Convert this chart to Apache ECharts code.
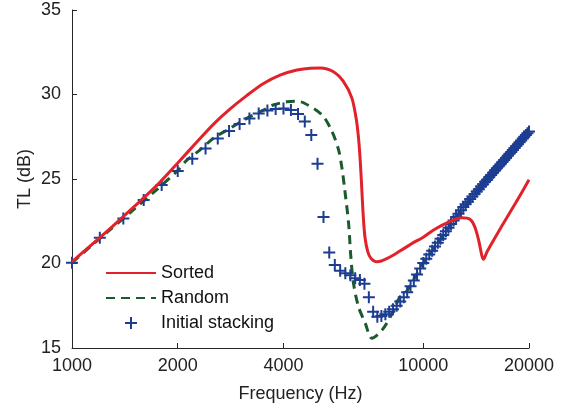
<!DOCTYPE html>
<html>
<head>
<meta charset="utf-8">
<script src="https://cdn.jsdelivr.net/npm/echarts@6/dist/echarts.min.js"></script>
<style>
  html, body { margin: 0; padding: 0; background: #fff; }
  #chart { width: 568px; height: 408px; }
</style>
</head>
<body>
<div id="chart"></div>
<script>
// tick labels
var xTicks = [1000, 2000, 4000, 10000, 20000];

// Sorted (red solid line)
var sortedFreq = [1000, 1250, 1500, 1750, 2000, 2270, 2530, 2820, 3150, 3510, 3910, 4370, 4770, 5090, 5550,
  5930, 6260, 6450, 6550, 6620, 6680, 6740, 6820, 6950, 7100, 7400, 7900, 8600, 9400, 10000, 10700,
  11800, 12890, 13600, 14000, 14370, 14670, 14840, 15190, 16720, 18300, 20000];
var sortedTL = [20.1, 21.85, 23.35, 24.65, 25.95, 27.2, 28.25, 29.15, 29.95, 30.65, 31.15, 31.45, 31.56, 31.57, 31.35,
  30.76, 29.8, 28.5, 27.3, 26.0, 24.5, 23.0, 21.6, 20.7, 20.3, 20.1, 20.3, 20.75, 21.25, 21.55, 21.98,
  22.45, 22.7, 22.6, 22.2, 21.4, 20.5, 20.25, 20.7, 22.2, 23.56, 24.95];

// Random (green dashed line)
var randomFreq = [1000, 1250, 1500, 1750, 2000, 2120, 2316, 2527, 2820, 3146, 3510, 3740, 4090, 4300, 4560,
  5150, 5500, 5740, 5870, 5970, 6130, 6220, 6330, 6540, 6840, 7140, 7640, 8160, 8600, 9000, 9600,
  10000, 11000, 12000, 14000, 16000, 18000, 20000];
var randomTL = [20.05, 21.8, 23.2, 24.4, 25.5, 26.1, 26.72, 27.41, 28.0, 28.59, 29.08, 29.38, 29.57, 29.6, 29.51,
  28.79, 27.8, 26.72, 25.63, 24.45, 22.38, 20.4, 18.83, 17.44, 16.46, 15.57, 16.07, 17.05, 18.04, 18.4, 19.4,
  20.0, 21.2, 22.3, 24.1, 25.5, 26.7, 27.8];

// Initial stacking (blue + markers)
var stackFreq = [1000, 1200, 1400, 1600, 1800, 2000, 2200, 2400, 2600, 2800, 3000, 3200, 3400, 3600, 3800, 4000,
  4200, 4400, 4600, 4800, 5000, 5200, 5400, 5600, 5800, 6000, 6200, 6400, 6600, 6800, 7000, 7200,
  7400, 7600, 7800, 8000, 8200, 8400, 8600, 8800, 9000, 9200, 9400, 9600, 9800, 10000, 10200, 10400,
  10600, 10800, 11000, 11200, 11400, 11600, 11800, 12000, 12200, 12400, 12600, 12800, 13000, 13200, 13400, 13600,
  13800, 14000, 14200, 14400, 14600, 14800, 15000, 15200, 15400, 15600, 15800, 16000, 16200, 16400, 16600, 16800,
  17000, 17200, 17400, 17600, 17800, 18000, 18200, 18400, 18600, 18800, 19000, 19200, 19400, 19600, 19800, 20000];
var stackTL = [20.05, 21.53, 22.67, 23.76, 24.64, 25.47, 26.2, 26.8, 27.4, 27.84, 28.25, 28.58, 28.88, 29.05, 29.14, 29.17,
  29.08, 28.85, 28.4, 27.6, 25.9, 22.75, 20.65, 19.91, 19.57, 19.42, 19.3, 19.12, 19.02, 18.8, 18.0, 17.15,
  16.85, 16.9, 17.0, 17.15, 17.3, 17.5, 17.75, 18.0, 18.3, 18.65, 19.0, 19.35, 19.7, 20.03, 20.28, 20.53,
  20.76, 21.0, 21.23, 21.46, 21.69, 21.91, 22.12, 22.33, 22.54, 22.75, 22.95, 23.15, 23.34, 23.5, 23.66, 23.81,
  23.96, 24.11, 24.26, 24.4, 24.55, 24.69, 24.83, 24.96, 25.1, 25.24, 25.37, 25.5, 25.63, 25.75, 25.88, 26.0,
  26.12, 26.25, 26.37, 26.49, 26.6, 26.72, 26.83, 26.95, 27.06, 27.17, 27.28, 27.39, 27.5, 27.6, 27.71, 27.81];

function pairs(xs, ys) {
  return xs.map(function (x, i) { return [x, ys[i]]; });
}

var font = "'Liberation Sans', Arial, sans-serif";
var axisColor = '#262626';

var chart = echarts.init(document.getElementById('chart'), null, { renderer: 'canvas' });

var option = {
  animation: false,
  textStyle: { fontFamily: font },
  grid: { left: 72, right: 39, top: 10, bottom: 60 },
  legend: {
    orient: 'vertical',
    left: 105,
    top: 264,
    padding: 0,
    itemWidth: 50,
    itemHeight: 12,
    itemGap: 7,
    textStyle: { fontSize: 18, color: '#111', fontFamily: font },
    data: [
      { name: 'Sorted', itemStyle: { opacity: 0 } },
      { name: 'Random', itemStyle: { opacity: 0 } },
      { name: 'Initial stacking' }
    ]
  },
  xAxis: {
    type: 'log',
    logBase: 10,
    min: 1000,
    max: 20000,
    name: 'Frequency (Hz)',
    nameLocation: 'middle',
    nameGap: 37,
    nameMoveOverlap: false,
    nameTextStyle: { fontSize: 18, color: '#222', fontFamily: font },
    axisLine: { lineStyle: { color: axisColor, width: 1 } },
    axisTick: { inside: true, length: 5, customValues: xTicks, lineStyle: { color: axisColor } },
    axisLabel: {
      customValues: xTicks,
      fontSize: 18,
      color: '#222',
      margin: 9,
      fontFamily: font,
      formatter: function (v) { return String(Math.round(v)); }
    },
    minorTick: { show: false },
    splitLine: { show: false }
  },
  yAxis: {
    type: 'value',
    min: 15,
    max: 35,
    interval: 5,
    name: 'TL (dB)',
    nameLocation: 'middle',
    nameGap: 38,
    nameMoveOverlap: false,
    nameTextStyle: { fontSize: 18, color: '#222', fontFamily: font },
    axisLine: { show: true, lineStyle: { color: axisColor, width: 1 } },
    axisTick: { show: true, inside: true, length: 5, lineStyle: { color: axisColor } },
    axisLabel: { fontSize: 18, color: '#222', margin: 11, fontFamily: font },
    splitLine: { show: false }
  },
  series: [
    {
      name: 'Sorted',
      type: 'line',
      data: pairs(sortedFreq, sortedTL),
      symbol: 'none',
      smooth: 0.3,
      z: 4,
      lineStyle: { color: '#e2222a', width: 3 },
      itemStyle: { color: '#e2222a' }
    },
    {
      name: 'Random',
      type: 'line',
      data: pairs(randomFreq, randomTL),
      symbol: 'none',
      smooth: 0.3,
      z: 2,
      lineStyle: { color: '#1b5a2c', width: 3, type: [9, 6] },
      itemStyle: { color: '#1b5a2c' }
    },
    {
      name: 'Initial stacking',
      type: 'scatter',
      data: pairs(stackFreq, stackTL),
      symbol: 'path://M5,0h2v12h-2z M0,5h12v2h-12z',
      symbolSize: 12,
      symbolKeepAspect: true,
      z: 3,
      itemStyle: { color: '#1c3d91', opacity: 1 }
    }
  ]
};

chart.setOption(option);
</script>
</body>
</html>
